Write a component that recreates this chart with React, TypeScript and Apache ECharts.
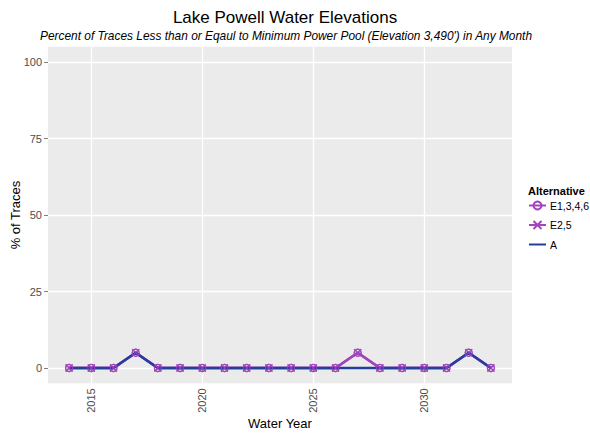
import React, { useEffect, useRef } from "react";
import * as echarts from "echarts";

const years = [2014, 2015, 2016, 2017, 2018, 2019, 2020, 2021, 2022, 2023, 2024, 2025, 2026, 2027, 2028, 2029, 2030, 2031, 2032, 2033];
const e1346 = [0, 0, 0, 5, 0, 0, 0, 0, 0, 0, 0, 0, 0, 5, 0, 0, 0, 0, 5, 0];
const e25 = [0, 0, 0, 5, 0, 0, 0, 0, 0, 0, 0, 0, 0, 5, 0, 0, 0, 0, 5, 0];
const altA = [0, 0, 0, 5, 0, 0, 0, 0, 0, 0, 0, 0, 0, 0, 0, 0, 0, 0, 5, 0];
const xTicks = [2015, 2020, 2025, 2030];
const yTicks = [0, 25, 50, 75, 100];

const PURPLE = "#A244BE";
const BLUE = "#233F9C";
const XSYM = "path://M0,0L10,10M10,0L0,10";
const FONT = "Liberation Sans, Arial, sans-serif";

export default function App() {
  const ref = useRef<HTMLDivElement>(null);
  useEffect(() => {
    if (!ref.current) return;
    const chart = echarts.init(ref.current, undefined, { renderer: "svg" });
    const pts = (arr: number[]) => years.map((y, i) => [y, arr[i]]);
    const markerStyle = { color: "transparent", borderColor: PURPLE, borderWidth: 1.2 };
    chart.setOption({
      animation: false,
      backgroundColor: "#ffffff",
      textStyle: { fontFamily: FONT },
      title: [
        {
          text: "Lake Powell Water Elevations",
          left: 280,
          textAlign: "center",
          top: 4,
          textStyle: { fontSize: 17, fontWeight: "normal", color: "#000", fontFamily: FONT },
        },
        {
          text: "Percent of Traces Less than or Eqaul to Minimum Power Pool (Elevation 3,490') in Any Month",
          left: 281,
          textAlign: "center",
          top: 25,
          textStyle: { fontSize: 11.9, fontStyle: "italic", fontWeight: "normal", color: "#000", fontFamily: FONT },
        },
        {
          text: "Alternative",
          left: 523,
          top: 180,
          textStyle: { fontSize: 11, fontWeight: "bold", color: "#000", fontFamily: FONT },
        },
      ],
      legend: {
        data: [
          { name: "E1,3,4,6" },
          { name: "E2,5" },
          { name: "A", itemStyle: { opacity: 0 } },
        ],
        orient: "vertical",
        left: 528,
        top: 200,
        padding: 0,
        itemGap: 8.5,
        itemWidth: 17,
        itemHeight: 10,
        textStyle: { fontSize: 10.5, color: "#000", fontFamily: FONT, padding: [0, 0, 0, -1] },
      },
      grid: {
        left: 48,
        right: 78,
        top: 46.7,
        bottom: 50.7,
        show: true,
        backgroundColor: "#EBEBEB",
        borderWidth: 0,
        containLabel: false,
        outerBoundsMode: "none",
      },
      xAxis: {
        type: "value",
        min: 2013.05,
        max: 2033.95,
        name: "Water Year",
        nameLocation: "middle",
        nameGap: 34,
        nameMoveOverlap: false,
        nameTextStyle: { fontSize: 13, color: "#000", fontFamily: FONT },
        axisLine: { show: false },
        axisTick: { show: true, length: 4, customValues: xTicks, lineStyle: { color: "#7f7f7f" } },
        axisLabel: {
          customValues: xTicks,
          rotate: 90,
          fontSize: 11,
          color: "#4d4d4d",
          margin: 5,
          fontFamily: FONT,
          formatter: (v: number) => String(v),
        },
        splitLine: { show: true, lineStyle: { color: "#ffffff", width: 1.3 } },
      },
      yAxis: {
        type: "value",
        min: -5,
        max: 105,
        name: "% of Traces",
        nameLocation: "middle",
        nameGap: 26,
        nameMoveOverlap: false,
        nameTextStyle: { fontSize: 13, color: "#000", fontFamily: FONT },
        axisLine: { show: false },
        axisTick: { show: true, length: 4, customValues: yTicks, lineStyle: { color: "#7f7f7f" } },
        axisLabel: { customValues: yTicks, fontSize: 11, color: "#4d4d4d", margin: 6, fontFamily: FONT },
        splitLine: { show: true, lineStyle: { color: "#ffffff", width: 1.3 } },
      },
      series: [
        {
          name: "E1,3,4,6",
          type: "line",
          data: pts(e1346),
          z: 1,
          symbol: "circle",
          symbolSize: 7,
          showSymbol: true,
          lineStyle: { color: PURPLE, width: 2.5 },
          itemStyle: markerStyle,
          color: PURPLE,
        },
        {
          name: "E2,5",
          type: "line",
          data: pts(e25),
          z: 1,
          symbol: XSYM,
          symbolSize: 7,
          lineStyle: { color: PURPLE, width: 2.5 },
          itemStyle: markerStyle,
          color: PURPLE,
        },
        {
          name: "A",
          type: "line",
          data: pts(altA),
          z: 2,
          symbol: "none",
          lineStyle: { color: BLUE, width: 2.5 },
          itemStyle: { color: BLUE },
          color: BLUE,
        },
        {
          name: "E1,3,4,6 pts",
          type: "scatter",
          data: pts(e1346),
          z: 3,
          symbol: "circle",
          symbolSize: 7,
          itemStyle: markerStyle,
        },
        {
          name: "E2,5 pts",
          type: "scatter",
          data: pts(e25),
          z: 3,
          symbol: XSYM,
          symbolSize: 7,
          itemStyle: markerStyle,
        },
      ],
    });
    return () => chart.dispose();
  }, []);
  return <div ref={ref} style={{ width: 590, height: 434, position: "absolute", left: 0, top: 0 }} />;
}
